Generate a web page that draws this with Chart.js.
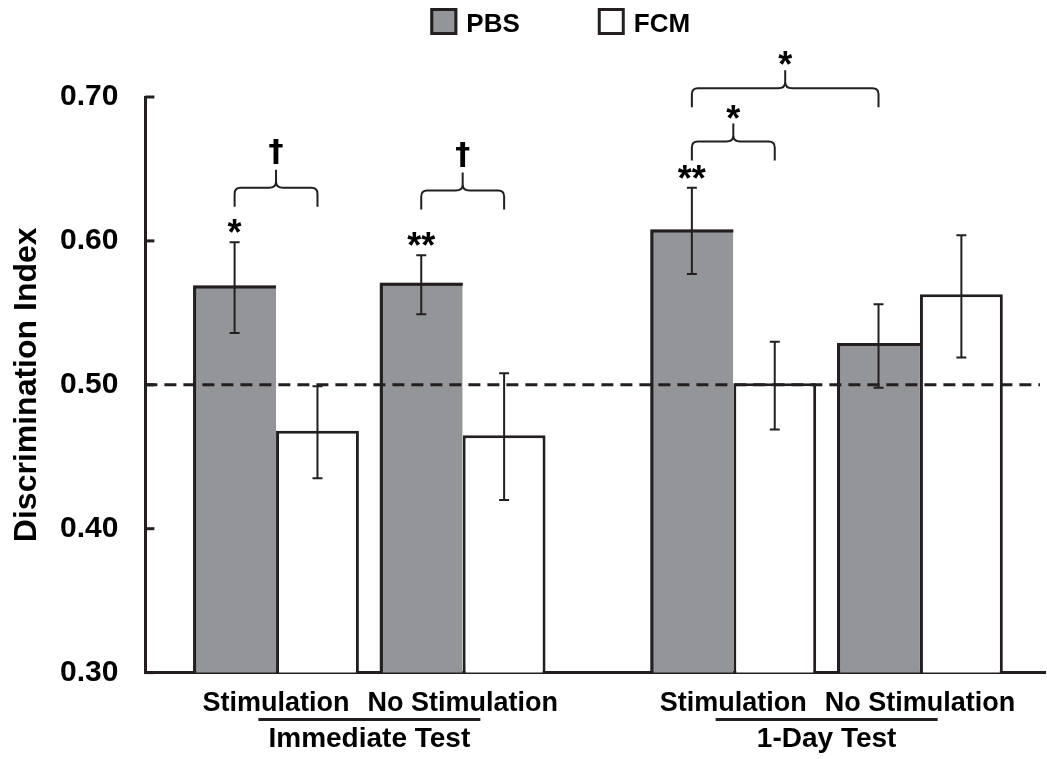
<!DOCTYPE html>
<html>
<head>
<meta charset="UTF-8" />
<script src="https://cdn.jsdelivr.net/npm/chart.js"></script>
<style>
  html, body { margin: 0; padding: 0; background: #fff; }
  #wrap { width: 1047px; height: 759px; }
</style>
</head>
<body>
<div id="wrap"><canvas id="myChart"></canvas></div>
<script>
// ---- data ----
const conditionLabels = ["Stimulation", "No Stimulation", "Stimulation", "No Stimulation"];
const testLabels = ["Immediate Test", "1-Day Test"];
const seriesNames = ["PBS", "FCM"];

const pbsMean = [0.569, 0.571, 0.608, 0.529];
const pbsLow  = [0.536, 0.549, 0.577, 0.498];
const pbsHigh = [0.599, 0.590, 0.637, 0.556];

const fcmMean = [0.468, 0.465, 0.501, 0.563];
const fcmLow  = [0.435, 0.420, 0.469, 0.519];
const fcmHigh = [0.499, 0.508, 0.530, 0.604];

const pbsStars = ["*", "**", "**", ""];
const chanceLevel = 0.5;
const yTicks = [0.3, 0.4, 0.5, 0.6, 0.7];

// comparisons: [series, condition] to [series, condition], bracket level, mark
const comparisons = [
  { from: [0, 0], to: [1, 0], level: 0.637, mark: "\u2020" },
  { from: [0, 1], to: [1, 1], level: 0.635, mark: "\u2020" },
  { from: [0, 2], to: [1, 2], level: 0.669, mark: "*" },
  { from: [0, 2], to: [0, 3], level: 0.706, mark: "*" },
];

// ---- layout / style ----
const INK = "#231f20";
const GREY = "#939598";
const FONT = '"Liberation Sans", Arial, Helvetica, sans-serif';
// x slot of each condition (the two tests are set further apart)
const slots = [0, 1, 2.45, 3.45];

function textWithBottomAt(ctx, s, x, bottom) {
  const m = ctx.measureText(s);
  ctx.fillText(s, x, bottom - m.actualBoundingBoxDescent);
}

function drawBrace(ctx, x1, x2, yh) {
  const drop = 19, r = 6, stem = 18, c = 7;
  const xm = (x1 + x2) / 2;
  ctx.beginPath();
  ctx.moveTo(x1, yh + drop);
  ctx.lineTo(x1, yh + r);
  ctx.quadraticCurveTo(x1, yh, x1 + r, yh);
  ctx.lineTo(xm - c, yh);
  ctx.quadraticCurveTo(xm, yh, xm, yh - 6);
  ctx.lineTo(xm, yh - stem);
  ctx.moveTo(xm, yh - 6);
  ctx.quadraticCurveTo(xm, yh, xm + c, yh);
  ctx.lineTo(x2 - r, yh);
  ctx.quadraticCurveTo(x2, yh, x2, yh + r);
  ctx.lineTo(x2, yh + drop);
  ctx.stroke();
  return yh - stem;
}

const extras = {
  id: "extras",
  afterDatasetsDraw(chart) {
    const ctx = chart.ctx, ys = chart.scales.y, area = chart.chartArea;
    ctx.save();
    ctx.strokeStyle = INK;
    // make sure the grey bars carry their dark outline
    ctx.lineWidth = 3;
    chart.getDatasetMeta(0).data.forEach(bar => {
      const l = bar.x - bar.width / 2 + 1.5, t = bar.y + 1.5;
      ctx.beginPath();
      ctx.moveTo(l, Math.min(bar.base, area.bottom));
      ctx.lineTo(l, t);
      ctx.lineTo(bar.x + bar.width / 2, t);
      ctx.stroke();
    });
    // dashed line at chance
    const yc = ys.getPixelForValue(chanceLevel);
    ctx.setLineDash([12, 7]);
    ctx.beginPath();
    ctx.moveTo(area.left, yc);
    ctx.lineTo(area.right - 5, yc);
    ctx.stroke();
    ctx.setLineDash([]);
    // error bars
    [[pbsLow, pbsHigh], [fcmLow, fcmHigh]].forEach(([lo, hi], d) => {
      chart.getDatasetMeta(d).data.forEach((bar, i) => {
        const x = bar.x;
        const y1 = ys.getPixelForValue(hi[i]);
        const y2 = ys.getPixelForValue(lo[i]);
        ctx.lineWidth = 2;
        ctx.beginPath();
        ctx.moveTo(x, y1); ctx.lineTo(x, y2);
        ctx.moveTo(x - 5, y1); ctx.lineTo(x + 5, y1);
        ctx.moveTo(x - 5, y2); ctx.lineTo(x + 5, y2);
        ctx.stroke();
      });
    });
    ctx.restore();
  },
  afterDraw(chart) {
    const ctx = chart.ctx, ys = chart.scales.y, xs = chart.scales.x, area = chart.chartArea;
    ctx.save();
    ctx.strokeStyle = INK;
    ctx.fillStyle = "#000";

    // inward y ticks
    ctx.lineWidth = 3;
    ys.ticks.forEach(t => {
      const py = ys.getPixelForValue(t.value);
      ctx.beginPath();
      ctx.moveTo(area.left, py);
      ctx.lineTo(area.left + 9, py);
      ctx.stroke();
    });

    // stars above PBS bars
    ctx.textAlign = "center";
    ctx.textBaseline = "alphabetic";
    ctx.font = "bold 36px " + FONT;
    chart.getDatasetMeta(0).data.forEach((bar, i) => {
      if (!pbsStars[i]) return;
      textWithBottomAt(ctx, pbsStars[i], bar.x, ys.getPixelForValue(pbsHigh[i]) - 9);
    });

    // comparison braces
    ctx.lineWidth = 2;
    comparisons.forEach(c => {
      const x1 = chart.getDatasetMeta(c.from[0]).data[c.from[1]].x;
      const x2 = chart.getDatasetMeta(c.to[0]).data[c.to[1]].x;
      const top = drawBrace(ctx, x1, x2, ys.getPixelForValue(c.level));
      ctx.font = c.mark === "*" ? "bold 36px " + FONT : 'bold 30px "DejaVu Sans", sans-serif';
      textWithBottomAt(ctx, c.mark, (x1 + x2) / 2, top - 5);
    });

    // test group underline + label
    ctx.font = "bold 28px " + FONT;
    for (let g = 0; g < testLabels.length; g++) {
      const xm = (xs.getPixelForValue(slots[2 * g]) + xs.getPixelForValue(slots[2 * g + 1])) / 2;
      ctx.lineWidth = 3;
      ctx.beginPath();
      ctx.moveTo(xm - 111, area.bottom + 47);
      ctx.lineTo(xm + 111, area.bottom + 47);
      ctx.stroke();
      ctx.fillText(testLabels[g], xm, area.bottom + 74);
    }

    // legend
    ctx.font = "bold 26px " + FONT;
    const fills = [GREY, "#ffffff"];
    const widths = seriesNames.map(n => ctx.measureText(n).width);
    const total = 27 + 9 + widths[0] + 78 + 27 + 9 + widths[1];
    let lx = (area.left + area.right) / 2 - 35 - total / 2;
    ctx.textAlign = "left";
    seriesNames.forEach((n, k) => {
      ctx.fillStyle = fills[k];
      ctx.fillRect(lx, 8, 27, 27);
      ctx.lineWidth = 3;
      ctx.strokeRect(lx + 1.5, 9.5, 24, 24);
      ctx.fillStyle = "#000";
      ctx.fillText(n, lx + 36, 32);
      lx += 36 + widths[k] + 78;
    });
    ctx.restore();
  }
};

const data = {
  datasets: [
    {
      label: seriesNames[0],
      data: pbsMean.map((v, i) => ({ x: slots[i], y: v })),
      backgroundColor: GREY,
      borderColor: INK,
      borderWidth: { top: 3, left: 3, right: 0, bottom: 0 },
      borderSkipped: false,
    },
    {
      label: seriesNames[1],
      data: fcmMean.map((v, i) => ({ x: slots[i], y: v })),
      backgroundColor: "#ffffff",
      borderColor: INK,
      borderWidth: { top: 3, left: 3, right: 3, bottom: 0 },
      borderSkipped: false,
    },
  ],
};

const config = {
  type: "bar",
  data: data,
  options: {
    responsive: true,
    maintainAspectRatio: false,
    animation: false,
    categoryPercentage: 0.888,
    barPercentage: 1.0,
    layout: { padding: { top: 97, bottom: 24, left: 0, right: 2 } },
    plugins: { legend: { display: false }, tooltip: { enabled: false } },
    scales: {
      x: {
        type: "linear",
        offset: false,
        min: -0.7,
        max: 4.12,
        grid: { display: false, drawTicks: false },
        border: { display: true, color: INK, width: 3 },
        afterBuildTicks: scale => { scale.ticks = slots.map(v => ({ value: v })); },
        ticks: {
          autoSkip: false,
          maxRotation: 0,
          padding: 15,
          color: "#000",
          font: { family: FONT, size: 27, weight: "bold" },
          callback: (v, i) => conditionLabels[i],
        },
      },
      y: {
        min: 0.3,
        max: 0.7,
        grid: { display: false, drawTicks: false },
        border: { display: true, color: INK, width: 3 },
        afterBuildTicks: scale => { scale.ticks = yTicks.map(v => ({ value: v })); },
        ticks: {
          padding: 27,
          color: "#000",
          font: { family: FONT, size: 30, weight: "bold" },
          callback: v => v.toFixed(2),
        },
        title: {
          display: true,
          text: "Discrimination Index",
          color: "#000",
          font: { family: FONT, size: 32, weight: "bold", lineHeight: 1 },
          padding: { top: 11, bottom: -10 },
        },
      },
    },
  },
  plugins: [extras],
};

new Chart(document.getElementById("myChart"), config);
</script>
</body>
</html>
